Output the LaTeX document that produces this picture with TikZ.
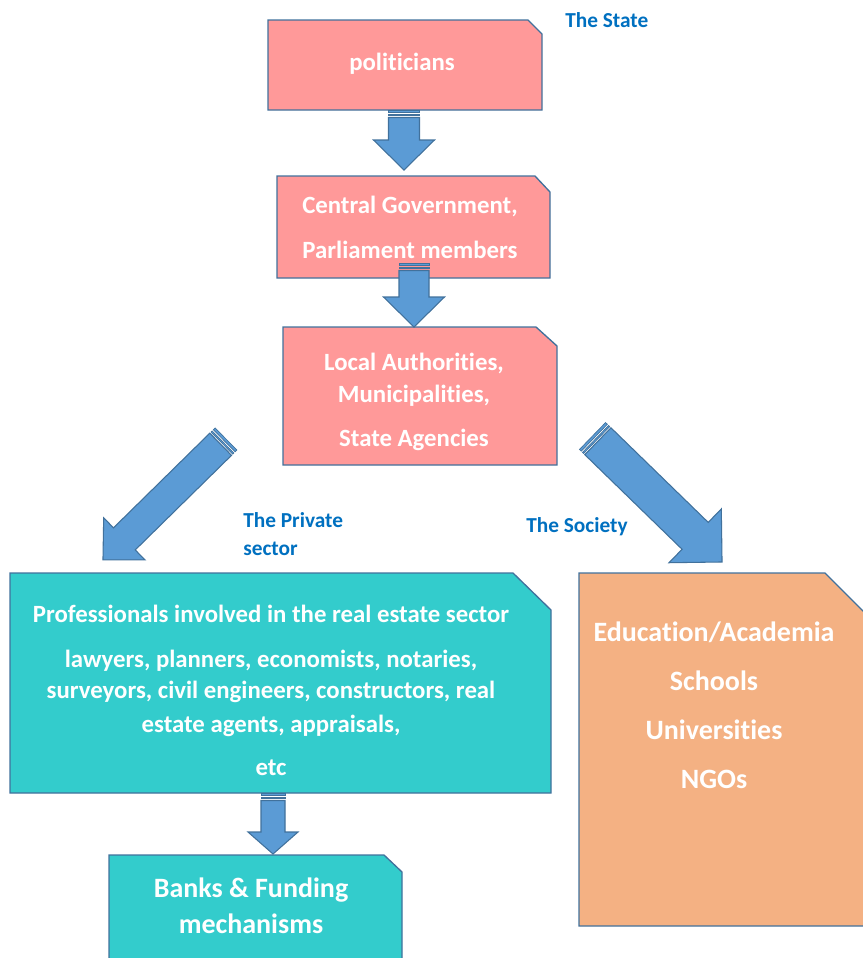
\documentclass[tikz,border=0pt]{standalone}
\usepackage{fontspec}
\setmainfont{Carlito}[Ligatures={NoCommon,NoContextual},Contextuals=NoAlternate]
\definecolor{pinkbox}{HTML}{FF9999}
\definecolor{tealbox}{HTML}{33CCCC}
\definecolor{orangebox}{HTML}{F4B183}
\definecolor{arrowblue}{HTML}{5B9BD5}
\definecolor{edgeblue}{HTML}{41719C}
\definecolor{labelblue}{HTML}{0070C0}
\tikzset{
  boxedge/.style={draw=edgeblue, line width=1pt},
  arr/.style={fill=arrowblue, draw=edgeblue, line width=0.8pt, line join=miter},
  stripe/.style={fill=arrowblue, draw=edgeblue, line width=0.5pt},
  boxtext/.style={anchor=base, text=white, font=\bfseries\fontsize{18.6}{22}\selectfont, inner sep=0pt},
  bigtext/.style={boxtext, font=\bfseries\fontsize{21}{25}\selectfont},
  lbl/.style={anchor=base west, text=labelblue, font=\bfseries\fontsize{16}{19}\selectfont, inner sep=0pt}
}
\newcommand\blkarrow[6]{%
  \begin{scope}[shift={#1},rotate=#2]
    \draw[stripe] (0,-#4) rectangle (2.5,#4);
    \draw[stripe] (4.2,-#4) rectangle (5.8,#4);
    \draw[arr] (7.5,-#4) -- ({#3-#6},-#4) -- ({#3-#6},-#5) -- (#3,0) -- ({#3-#6},#5) -- ({#3-#6},#4) -- (7.5,#4) -- cycle;
  \end{scope}}
\begin{document}
\begin{tikzpicture}[x=0.75pt,y=-0.75pt]
\useasboundingbox (0,0) rectangle (863,958);
\clip (0,0) rectangle (863,958);
% boxes
\draw[boxedge, fill=pinkbox] (268,20) -- (528,20) -- (542,34) -- (542,110) -- (268,110) -- cycle;
\draw[boxedge, fill=pinkbox] (277,176) -- (535,176) -- (550,192) -- (550,278) -- (277,278) -- cycle;
\draw[boxedge, fill=pinkbox] (283,327) -- (536,327) -- (557,346) -- (557,465) -- (283,465) -- cycle;
\draw[boxedge, fill=tealbox] (10,573) -- (513,573) -- (551,610) -- (551,793) -- (10,793) -- cycle;
\draw[boxedge, fill=tealbox] (109,855) -- (384,855) -- (402,872) -- (402,964) -- (109,964) -- cycle;
\draw[boxedge, fill=orangebox] (579,573) -- (825,573) -- (864,612) -- (864,926) -- (579,926) -- cycle;
% box texts
\node[boxtext] (p1) at (402,70.5) {politicians};
\node[boxtext] (c1) at (410,213) {Central Government,};
\node[boxtext] (c2) at (410,258) {Parliament members};
\node[boxtext] (l1) at (414,370) {Local Authorities,};
\node[boxtext] (l2) at (414,402) {Municipalities,};
\node[boxtext] (l3) at (414,446) {State Agencies};
\node[boxtext] (r1) at (271,622) {Professionals involved in the real estate sector};
\node[boxtext] (r2) at (271,667) {lawyers, planners, economists, notaries,};
\node[boxtext] (r3) at (271,698) {surveyors, civil engineers, constructors, real};
\node[boxtext] (r4) at (271,732) {estate agents, appraisals,};
\node[boxtext] (r5) at (271,775) {etc};
\node[bigtext] (b1) at (251,897) {Banks \& Funding};
\node[bigtext] (b2) at (251,933) {mechanisms};
\node[bigtext] (e1) at (714,641) {Education/Academia};
\node[bigtext] (e2) at (714,690) {Schools};
\node[bigtext] (e3) at (714,739) {Universities};
\node[bigtext] (e4) at (714,788) {NGOs};
% labels
\node[lbl] (s1) at (565,27) {The State};
\node[lbl] (s2) at (243,527) {The Private};
\node[lbl] (s3) at (243,555) {sector};
\node[lbl] (s4) at (526,532) {The Society};
% arrows
\coordinate (a1) at (404,110);
\coordinate (a2) at (414,263);
\coordinate (a3) at (226,439);
\coordinate (a4) at (592.5,436);
\coordinate (a5) at (273,793);
\blkarrow{(a1)}{-90}{60}{15.5}{30.5}{30}
\blkarrow{(a2)}{-90}{64}{15}{30.5}{30}
\blkarrow{(a3)}{-135.5}{172.5}{15.5}{29.5}{30}
\blkarrow{(a4)}{-44.2}{180.7}{18.75}{37.5}{37.5}
\blkarrow{(a5)}{-90}{61}{12}{25}{22}
\end{tikzpicture}
\end{document}
